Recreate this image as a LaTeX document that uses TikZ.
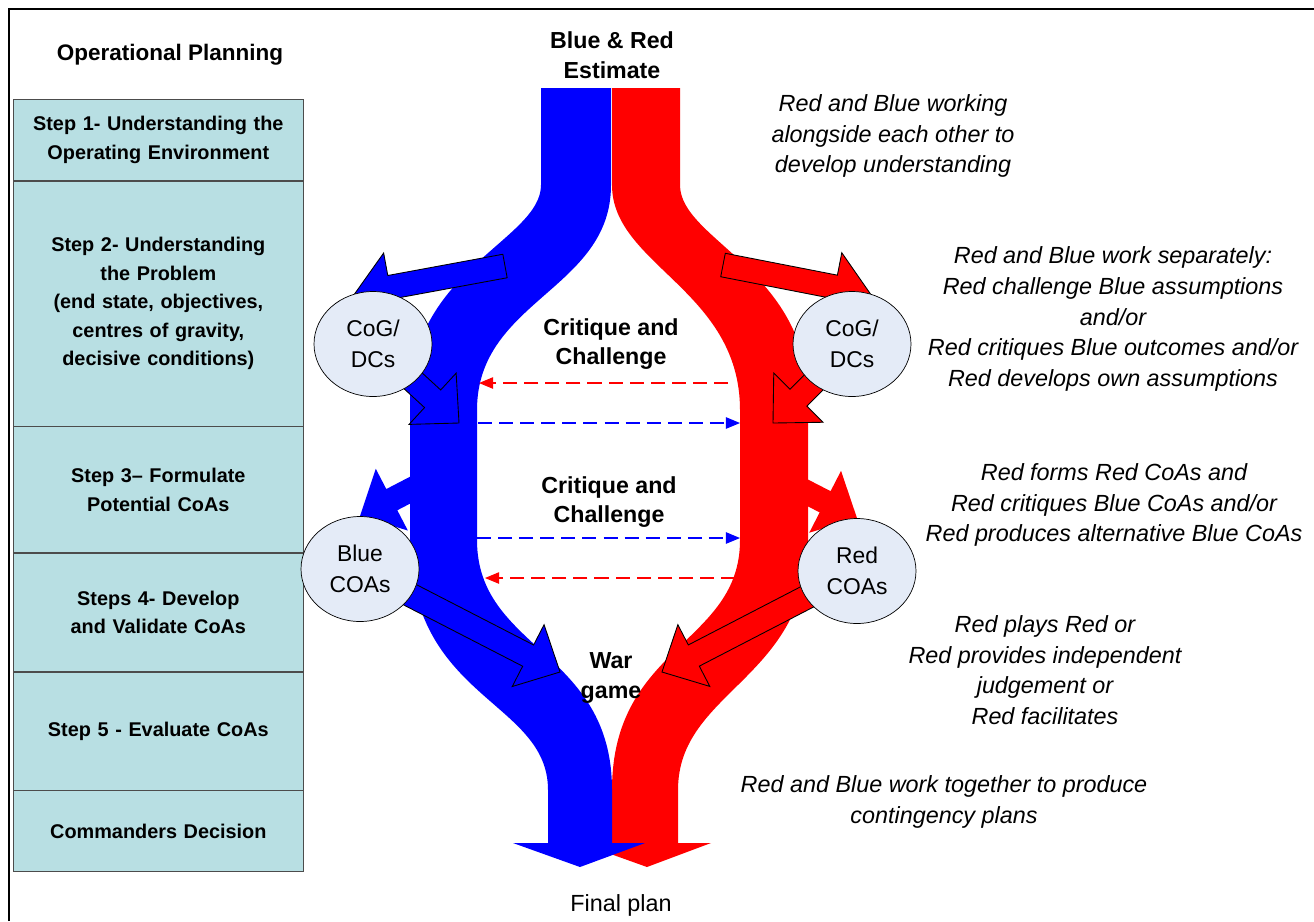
\documentclass[tikz,border=0pt]{standalone}
\usepackage{fontspec}
\setmainfont{Liberation Sans}
\usetikzlibrary{shapes.geometric,positioning,calc,arrows.meta,backgrounds}

\definecolor{stepfill}{RGB}{184,223,227}
\definecolor{cogfill}{RGB}{228,235,247}
\definecolor{teamblue}{RGB}{0,0,255}
\definecolor{teamred}{RGB}{255,0,0}

% block arrow, shaft from #2, tip at #3
\newcommand{\blockarrow}[3][]{%
  \coordinate (ba-h) at ($(#3)!20.4pt!(#2)$);
  \path[#1] ($(#2)!6.8pt!90:(#3)$) -- ($(ba-h)!6.8pt!90:(#3)$)
    -- ($(ba-h)!19.8pt!90:(#3)$) -- (#3)
    -- ($(ba-h)!19.8pt!-90:(#3)$) -- ($(ba-h)!6.8pt!-90:(#3)$)
    -- ($(#2)!6.8pt!-90:(#3)$) -- cycle;
}

\begin{document}
\begin{tikzpicture}[
  x=0.02cm, y=-0.02cm,
  stepbox/.style={
    draw=black!70,
    fill=stepfill,
    minimum width=5.8cm,
    text width=5.6cm,
    inner sep=0pt,
    align=center,
    font=\fontsize{11.3}{16.2}\selectfont\bfseries,
  },
  cog/.style={
    draw,
    ellipse,
    fill=cogfill,
    minimum width=2.36cm,
    minimum height=2.1cm,
    inner sep=0pt,
    align=center,
    font=\fontsize{13}{17.6}\selectfont,
  },
  note/.style={align=center, font=\fontsize{13.3}{17.4}\selectfont\itshape},
  heading/.style={align=center, font=\fontsize{13.2}{17}\selectfont\bfseries},
  blueflow/.style={fill=teamblue},
  redflow/.style={fill=teamred},
  bluearrow/.style={fill=teamblue, draw=black, line width=0.5pt},
  redarrow/.style={fill=teamred, draw=black, line width=0.5pt},
  bluedash/.style={
    draw=teamblue,
    line width=0.6pt,
    dash pattern=on 8pt off 4pt,
    -{Triangle[length=8pt,width=6.5pt]},
  },
  reddash/.style={
    draw=teamred,
    line width=0.6pt,
    dash pattern=on 8pt off 4pt,
    -{Triangle[length=8pt,width=6.5pt]},
  },
]
\useasboundingbox (0,0) rectangle (1314,921);

% frame
\draw[line width=1.1pt] (9,921) -- (9,9) -- (1314,9);

% Planning steps
\node[font=\fontsize{12.8}{15}\selectfont\bfseries] (opTitle) at (170,55) {Operational Planning};
\node[stepbox, anchor=north west, minimum height=1.62cm] (step1) at (13,99)
  {Step 1- Understanding the\\Operating Environment};
\node[stepbox, minimum height=4.9cm, below=0pt of step1] (step2)
  {Step 2- Understanding\\the Problem\\(end state, objectives,\\centres of gravity,\\decisive conditions)};
\node[stepbox, minimum height=2.52cm, below=0pt of step2] (step3)
  {Step 3– Formulate\\Potential CoAs};
\node[stepbox, minimum height=2.36cm, below=0pt of step3] (step4)
  {Steps 4- Develop\\and Validate CoAs};
\node[stepbox, minimum height=2.36cm, below=0pt of step4] (step5)
  {Step 5 - Evaluate CoAs};
\node[stepbox, minimum height=1.62cm, below=0pt of step5] (decide)
  {Commanders Decision};

% Centres of gravity and courses of action
\node[cog] (cogL) at (373,344) {CoG/\\DCs};
\node[cog] (cogR) at (852,344) {CoG/\\DCs};
\node[cog] (coaB) at (360,569) {Blue\\COAs};
\node[cog] (coaR) at (857,571) {Red\\COAs};

% stream edges for the exchanges
\coordinate (bEdge1) at (479,383);
\coordinate (rEdge1) at (728,383);
\coordinate (bEdge2) at (478,423);
\coordinate (rEdge2) at (740,423);
\coordinate (bEdge3) at (477,538);
\coordinate (rEdge3) at (740,538);
\coordinate (bEdge4) at (485,578);
\coordinate (rEdge4) at (735,578);
% where the block arrows leave or join the streams
\coordinate (bOut1) at (505,266);
\coordinate (rOut1) at (723,265);
\coordinate (bIn1) at (459,423);
\coordinate (rIn1) at (773,423);
\coordinate (bOut2) at (445,472);
\coordinate (rOut2) at (775,476);
\coordinate (bIn2) at (560,672);
\coordinate (rIn2) at (662,672);

\begin{scope}[on background layer]
  \blockarrow[blueflow]{bOut2}{coaB.north}
  \blockarrow[redflow]{rOut2}{coaR.north}
  % Red estimate
  \path[redflow] (612,88) -- (612,185) .. controls (612,265) and (740,290) .. (740,410)
    -- (740,540) .. controls (740,645) and (612,645) .. (612,790) -- (612,843)
    -- (580,843) -- (647,867) -- (711,843) -- (678,843) -- (678,790)
    .. controls (678,690) and (808,680) .. (808,540) -- (808,400)
    .. controls (808,270) and (680,240) .. (680,185) -- (680,88) -- cycle;
  % Blue estimate
  \path[blueflow] (541,88) -- (541,185) .. controls (541,240) and (410,270) .. (410,400)
    -- (410,540) .. controls (410,700) and (548,700) .. (548,790) -- (548,843)
    -- (513,843) -- (580,867) -- (645,843) -- (612,843) -- (612,790)
    .. controls (612,650) and (477,650) .. (477,540) -- (477,410)
    .. controls (477,300) and (611,290) .. (611,185) -- (611,88) -- cycle;
  \blockarrow[bluearrow]{bOut1}{cogL.110}
  \blockarrow[redarrow]{rOut1}{cogR.70}
  \blockarrow[bluearrow]{cogL.center}{bIn1}
  \blockarrow[redarrow]{cogR.center}{rIn1}
  \blockarrow[bluearrow]{coaB.center}{bIn2}
  \blockarrow[redarrow]{coaR.center}{rIn2}
\end{scope}

% exchanges between the teams
\draw[reddash] (rEdge1) -- (bEdge1);
\draw[bluedash] (bEdge2) -- (rEdge2);
\draw[bluedash] (bEdge3) -- (rEdge3);
\draw[reddash] (rEdge4) -- (bEdge4);

\node[heading] (estimate) at (612,55) {Blue \& Red\\Estimate};
\node[heading] (crit1) at (611,344) {Critique and\\Challenge};
\node[heading] (crit2) at (609,502) {Critique and\\Challenge};
\node[heading] (wargame) at (611,678) {War\\game};
\node[font=\fontsize{13.3}{16}\selectfont] (final) at (621,905) {Final plan};

% what Red does at each stage
\node[note] (note1) at (893,136) {Red and Blue working\\alongside each other to\\develop understanding};
\node[note] (note2) at (1113,319) {Red and Blue work separately:\\Red challenge Blue assumptions\\and/or\\Red critiques Blue outcomes and/or\\Red develops own assumptions};
\node[note] (note3) at (1114,505) {Red forms Red CoAs and\\Red critiques Blue CoAs and/or\\Red produces alternative Blue CoAs};
\node[note] (note4) at (1045,670) {Red plays Red or\\Red provides independent\\judgement or\\Red facilitates};
\node[note] (note5) at (944,802) {Red and Blue work together to produce\\contingency plans};

\end{tikzpicture}
\end{document}
